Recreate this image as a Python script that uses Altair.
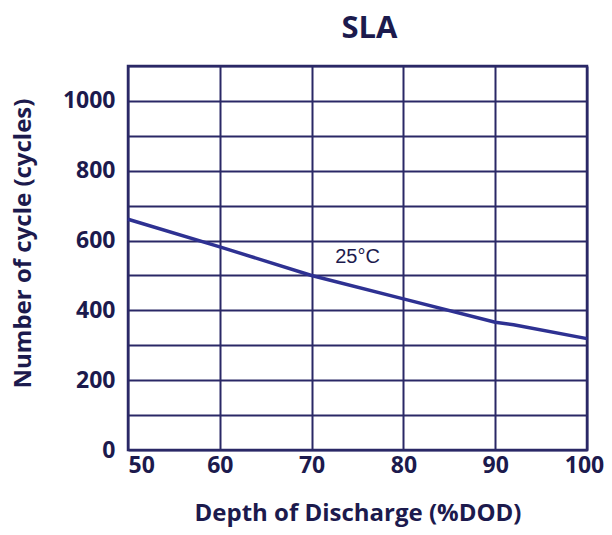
import altair as alt
import pandas as pd

# Data
dod = [50, 60, 70, 80, 90, 92, 100]
cycles = [661, 582, 500, 433, 366, 359, 319]

label_x = [75]
label_y = [553]
label_text = ["25°C"]

navy = "#1c1a4d"
grid_col = "#2a2866"
line_col = "#2e3192"

df = pd.DataFrame({"dod": dod, "cycles": cycles})
lab = pd.DataFrame({"x": label_x, "y": label_y, "t": label_text})

x_scale = alt.Scale(domain=[50, 100], nice=False, zero=False)
y_scale = alt.Scale(domain=[0, 1100], nice=False)

line = alt.Chart(df).mark_line(color=line_col, strokeWidth=3.5).encode(
    x=alt.X("dod:Q", scale=x_scale,
            axis=alt.Axis(
                title="Depth of Discharge (%DOD)",
                values=[50, 60, 70, 80, 90, 100], tickCount=20,
                grid=True, gridColor=grid_col, gridWidth=2, gridOpacity=1,
                ticks=False, domain=False, format="d",
                labelFont="Open Sans", labelFontWeight="bold", labelFontSize=23,
                labelColor=navy, labelPadding=4,
                labelAlign=alt.ExprRef("datum.value == 50 ? 'left' : 'center'"),
                labelOffset=alt.ExprRef("datum.value == 100 ? -3 : 0"),
                titleFont="Open Sans", titleFontWeight="bold", titleFontSize=24,
                titleColor=navy, titlePadding=24)),
    y=alt.Y("cycles:Q", scale=y_scale,
            axis=alt.Axis(
                title="Number of cycle (cycles)",
                values=list(range(0, 1101, 100)), tickCount=30,
                format="d",
                labelExpr="(datum.value % 200 == 0 && datum.value <= 1000) ? datum.label : ''",
                grid=True, gridColor=grid_col, gridWidth=2, gridOpacity=1,
                ticks=False, domain=False,
                labelFont="Open Sans", labelFontWeight="bold", labelFontSize=23,
                labelColor=navy, labelPadding=13,
                titleFont="Open Sans", titleFontWeight="bold", titleFontSize=24,
                titleColor=navy, titlePadding=27, titleY=177)),
)

text = alt.Chart(lab).mark_text(
    font="Liberation Sans", fontSize=20, color=navy
).encode(
    x=alt.X("x:Q", scale=x_scale),
    y=alt.Y("y:Q", scale=y_scale),
    text="t:N",
)

chart = (line + text).properties(
    width=459, height=384,
    autosize=alt.AutoSizeParams(type="none"),
    padding={"left": 120, "top": 58, "right": 17, "bottom": 77},
    title=alt.TitleParams("SLA", font="Open Sans", fontWeight="bold",
                          fontSize=31, color=navy, offset=21, dx=12),
).configure_view(stroke=grid_col, strokeWidth=2.5)

chart.save("out.html", embed_options={"renderer": "svg", "actions": False})
